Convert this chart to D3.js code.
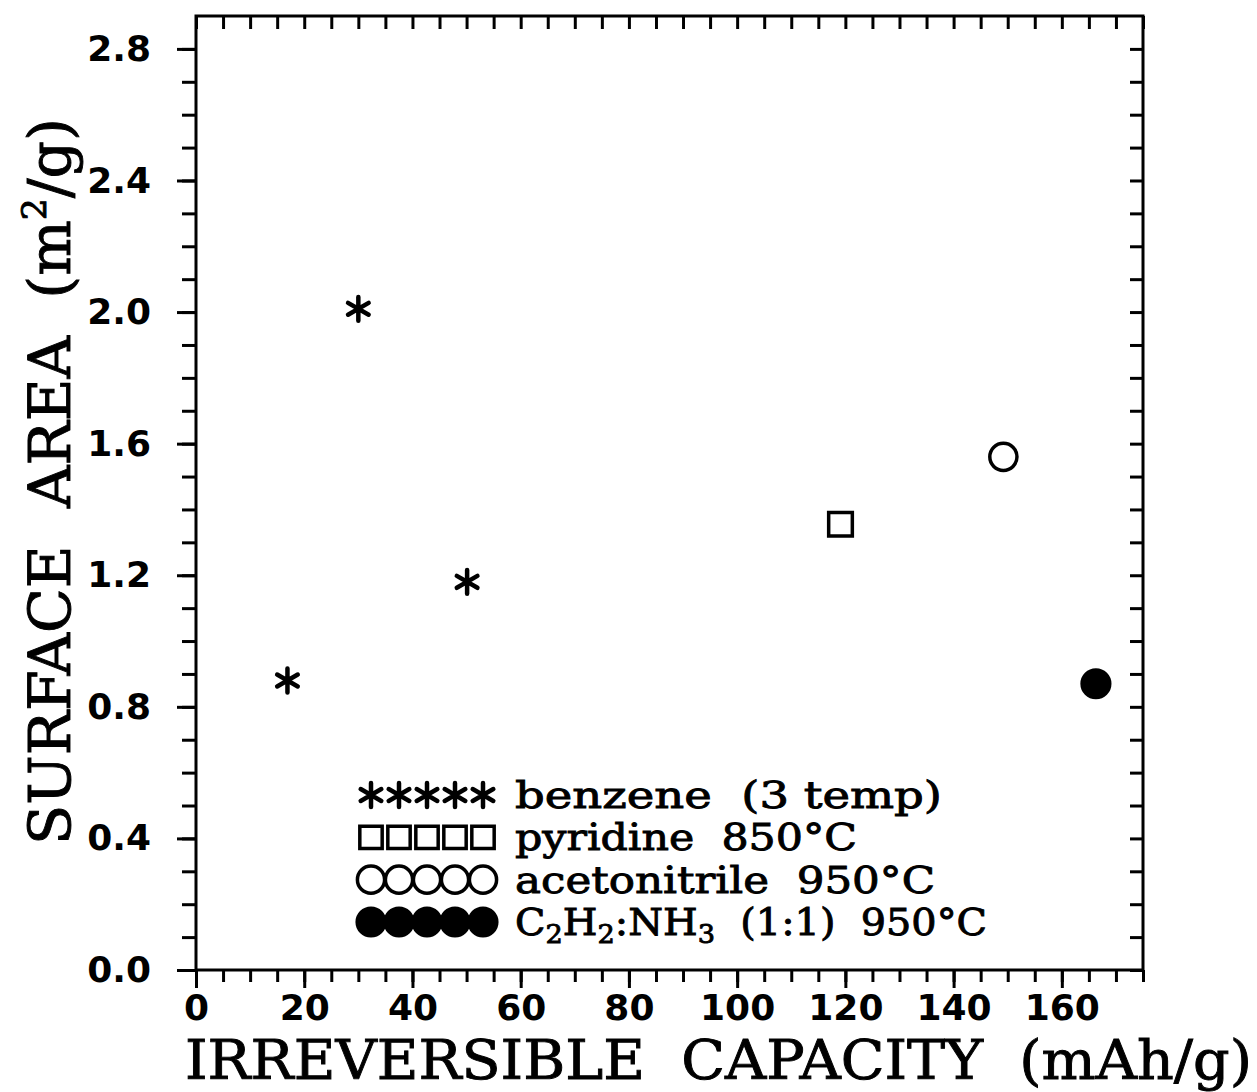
<!DOCTYPE html>
<html>
<head>
<meta charset="utf-8">
<script src="https://cdn.jsdelivr.net/npm/d3@7"></script>
<style>
  body { margin: 0; background: #fff; }
  text { white-space: pre; fill: #000; }
</style>
</head>
<body>
<script>
// data
const benzeneX = [16.9, 30.0, 50.1];
const benzeneY = [0.88, 2.01, 1.18];
const pyridineX = [119.1];
const pyridineY = [1.355];
const acetonitrileX = [149.2];
const acetonitrileY = [1.56];
const acNh3X = [166.3];
const acNh3Y = [0.87];

const xTickLabels = [0, 20, 40, 60, 80, 100, 120, 140, 160];
const yTickLabels = ['0.0', '0.4', '0.8', '1.2', '1.6', '2.0', '2.4', '2.8'];
const xMinorTicks = d3.range(0, 176, 5);
const yMinorTicks = d3.range(0, 29).map(d => d / 10);

const W = 1257, H = 1092;
const margin = {top: 16, right: 114, bottom: 122, left: 196};

const svg = d3.select('body').append('svg')
  .attr('width', W)
  .attr('height', H);

const x = d3.scaleLinear().domain([0, 175]).range([margin.left, W - margin.right]);
const y = d3.scaleLinear().domain([0, 2.9]).range([H - margin.bottom, margin.top]);

const tickFont = g => g.selectAll('text')
  .attr('font-family', 'DejaVu Sans')
  .attr('font-weight', 'bold')
  .attr('font-size', 36)
  .attr('fill', '#000');
const strip = g => {
  g.select('.domain').remove();
  g.selectAll('line').attr('stroke', '#000').attr('stroke-width', 3);
};
// heavier serif, like the scanned original
const heavy = t => t
  .attr('font-family', 'DejaVu Serif')
  .attr('stroke', '#000')
  .attr('stroke-width', 0.9);

// bottom axis: outward ticks, long at labels
svg.append('g')
  .attr('transform', `translate(0,${y(0)})`)
  .call(d3.axisBottom(x).tickValues(xMinorTicks).tickSize(12).tickFormat(''))
  .call(strip);
svg.append('g')
  .attr('transform', `translate(0,${y(0)})`)
  .call(d3.axisBottom(x).tickValues(xTickLabels).tickSize(18).tickPadding(6).tickFormat(d3.format('d')))
  .call(strip)
  .call(tickFont);

// left axis: outward ticks
svg.append('g')
  .attr('transform', `translate(${x(0)},0)`)
  .call(d3.axisLeft(y).tickValues(yMinorTicks).tickSize(14).tickFormat(''))
  .call(strip);
svg.append('g')
  .attr('transform', `translate(${x(0)},0)`)
  .call(d3.axisLeft(y).tickValues(yTickLabels.map(Number)).tickSize(19).tickPadding(26).tickFormat((d, i) => yTickLabels[i]))
  .call(strip)
  .call(tickFont);

// top and right: inward ticks, no labels
svg.append('g')
  .attr('transform', `translate(0,${y(2.9)})`)
  .call(d3.axisBottom(x).tickValues(xMinorTicks).tickSize(13).tickFormat(''))
  .call(strip);
svg.append('g')
  .attr('transform', `translate(${x(175)},0)`)
  .call(d3.axisLeft(y).tickValues(yMinorTicks).tickSize(13).tickFormat(''))
  .call(strip);

// frame
svg.append('rect')
  .attr('x', x(0)).attr('y', y(2.9))
  .attr('width', x(175) - x(0))
  .attr('height', y(0) - y(2.9))
  .attr('fill', 'none')
  .attr('stroke', '#000')
  .attr('stroke-width', 3);

// series
const series = [
  {xs: benzeneX, ys: benzeneY, type: d3.symbolAsterisk, size: 400, fill: false},
  {xs: pyridineX, ys: pyridineY, type: d3.symbolSquare, size: 560, fill: false},
  {xs: acetonitrileX, ys: acetonitrileY, type: d3.symbolCircle, size: 580, fill: false},
  {xs: acNh3X, ys: acNh3Y, type: d3.symbolCircle, size: 600, fill: true}
];

function drawMark(sel, s) {
  sel.attr('d', d3.symbol().type(s.type).size(s.size)())
    .attr('fill', s.fill ? '#000' : 'none')
    .attr('stroke', '#000')
    .attr('stroke-width', s.type === d3.symbolAsterisk ? 4.5 : 3.5)
    .attr('stroke-linecap', 'round');
}

series.forEach(s => {
  svg.append('g').selectAll('path')
    .data(s.xs.map((v, i) => [v, s.ys[i]]))
    .join('path')
    .attr('transform', d => `translate(${x(d[0])},${y(d[1])})`)
    .call(drawMark, s);
});

// legend
const legendRow = d3.scaleLinear().domain([0, 3]).range([795, 922]);
const legendSlot = d3.scaleLinear().domain([0, 4]).range([371, 483]);
const legendTextWidth = [427, 342, 420, 472];

const legend = svg.append('g');
series.forEach((s, r) => {
  const ls = s.type === d3.symbolSquare ? {...s, size: 500} : s;
  legend.append('g').selectAll('path')
    .data(d3.range(5))
    .join('path')
    .attr('transform', i => `translate(${legendSlot(i)},${legendRow(r)})`)
    .call(drawMark, ls);
});

const legendText = legend.selectAll('text')
  .data(d3.range(4))
  .join('text')
  .attr('x', 515)
  .attr('y', r => legendRow(r) + 13)
  .call(heavy)
  .attr('font-size', 38)
  .attr('textLength', r => legendTextWidth[r])
  .attr('lengthAdjust', 'spacingAndGlyphs');

legendText.filter(r => r === 0).text('benzene  (3 temp)');
legendText.filter(r => r === 1).text('pyridine  850°C');
legendText.filter(r => r === 2).text('acetonitrile  950°C');
const chem = legendText.filter(r => r === 3);
[['C', 0], ['2', 1], ['H', 0], ['2', 1], [':NH', 0], ['3', 1], ['  (1:1)  950°C', 0]]
  .forEach(([t, sub], i, arr) => {
    const prevSub = i > 0 ? arr[i - 1][1] : 0;
    chem.append('tspan')
      .attr('dy', sub === prevSub ? 0 : (sub ? 8 : -8))
      .attr('font-size', sub ? 26 : 38)
      .text(t);
  });

// axis titles
svg.append('text')
  .attr('x', 185)
  .attr('y', 1079)
  .call(heavy)
  .attr('font-size', 54)
  .attr('textLength', 1067)
  .attr('lengthAdjust', 'spacingAndGlyphs')
  .text('IRREVERSIBLE  CAPACITY  (mAh/g)');

const yTitle = svg.append('text')
  .attr('transform', 'translate(70,845) rotate(-90)')
  .call(heavy)
  .attr('font-size', 58)
  .attr('textLength', 727)
  .attr('lengthAdjust', 'spacingAndGlyphs');
yTitle.append('tspan').text('SURFACE  AREA  (m');
yTitle.append('tspan').attr('dy', -24).attr('font-size', 34).text('2');
yTitle.append('tspan').attr('dy', 24).text('/g)');
</script>
</body>
</html>
